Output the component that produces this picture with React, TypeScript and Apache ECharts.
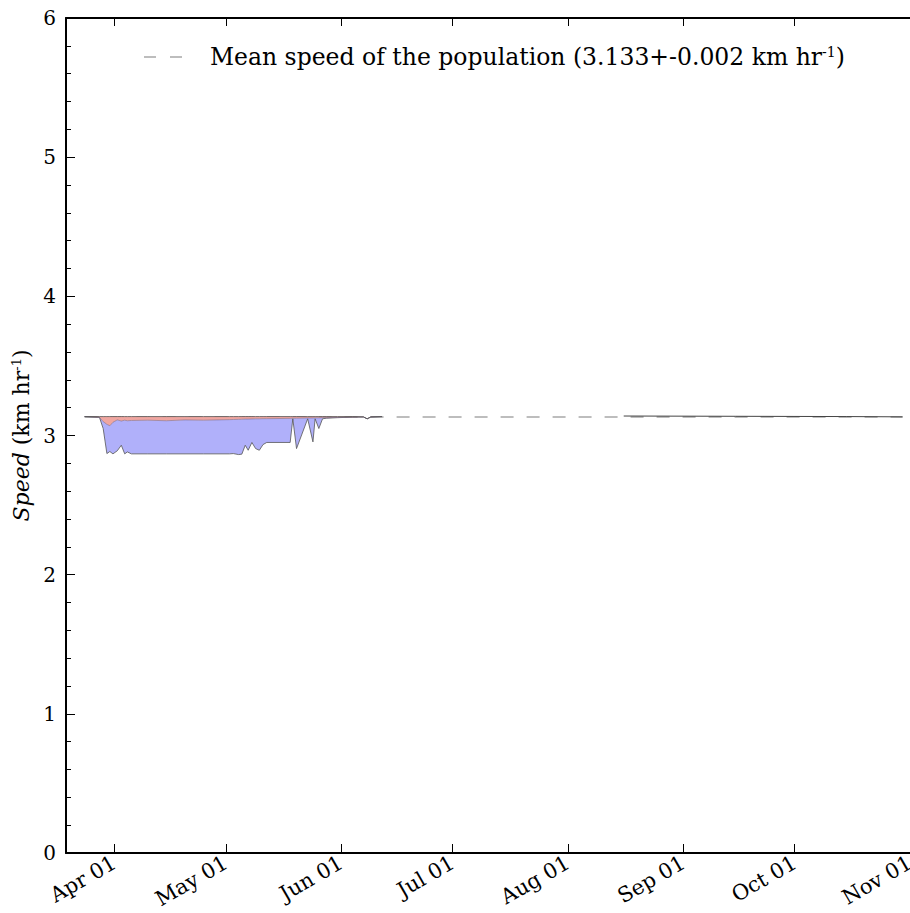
import React, { useEffect, useRef } from "react";
import * as echarts from "echarts";

// Dates of the speed envelope (shared by the three edge arrays)
const envelopeDates: string[] = [
  "2014-03-24", "2014-03-28", "2014-03-29", "2014-03-29 12:00", "2014-03-30",
  "2014-03-30 19:00", "2014-03-31 15:00", "2014-04-01 19:00", "2014-04-02 21:00",
  "2014-04-03 19:00", "2014-04-04 12:00", "2014-04-05 14:00", "2014-04-10",
  "2014-04-15", "2014-04-20", "2014-04-25", "2014-05-02", "2014-05-03",
  "2014-05-04 10:00", "2014-05-05 07:00", "2014-05-06 05:00", "2014-05-07",
  "2014-05-08", "2014-05-09", "2014-05-10", "2014-05-11", "2014-05-12",
  "2014-05-18 07:00", "2014-05-19", "2014-05-20", "2014-05-23", "2014-05-24 10:00",
  "2014-05-25", "2014-05-26", "2014-05-27", "2014-05-28", "2014-05-31",
  "2014-06-04", "2014-06-07", "2014-06-08", "2014-06-09", "2014-06-12",
];
// upper edge of the red band (population mean level)
const upperSpeed: number[] = [
  3.136, 3.136, 3.136, 3.136, 3.136, 3.136, 3.136, 3.136, 3.136, 3.136, 3.136,
  3.136, 3.136, 3.136, 3.136, 3.136, 3.136, 3.136, 3.136, 3.136, 3.136, 3.136,
  3.136, 3.136, 3.136, 3.136, 3.136, 3.136, 3.136, 3.136, 3.136, 3.136, 3.136,
  3.136, 3.136, 3.136, 3.136, 3.136, 3.134, 3.12, 3.134, 3.136,
];
// boundary between red and blue bands
const middleSpeed: number[] = [
  3.136, 3.13, 3.1, 3.09, 3.08, 3.07, 3.095, 3.112, 3.104, 3.11, 3.106,
  3.108, 3.11, 3.106, 3.112, 3.11, 3.114, 3.115, 3.116, 3.117, 3.118, 3.118,
  3.119, 3.12, 3.12, 3.121, 3.121, 3.123, 3.124, 3.124, 3.126, 3.126,
  3.127, 3.127, 3.128, 3.128, 3.13, 3.132, 3.133, 3.12, 3.133, 3.136,
];
// lower edge of the blue band
const lowerSpeed: number[] = [
  3.136, 3.13, 3.05, 2.96, 2.87, 2.885, 2.868, 2.89, 2.93, 2.868, 2.882,
  2.868, 2.868, 2.868, 2.868, 2.868, 2.868, 2.87, 2.863, 2.866, 2.93, 2.894,
  2.95, 2.906, 2.894, 2.935, 2.95, 2.95, 3.12, 2.906, 3.12, 2.954,
  3.12, 3.05, 3.12, 3.124, 3.128, 3.132, 3.133, 3.12, 3.133, 3.136,
];
// later single trace
const lateDates: string[] = ["2014-08-16", "2014-09-15", "2014-10-15", "2014-10-30"];
const lateSpeed: number[] = [3.14, 3.138, 3.136, 3.134];
// population mean
const meanDates: string[] = ["2014-03-24", "2014-10-30"];
const meanSpeed = 3.133;

const yTicks = [0, 1, 2, 3, 4, 5, 6];
const xMin = "2014-03-19";
const xMax = "2014-11-01";
const MONTHS = ["Jan", "Feb", "Mar", "Apr", "May", "Jun", "Jul", "Aug", "Sep", "Oct", "Nov", "Dec"];

const FONT = "DejaVu Serif";

export default function App() {
  const ref = useRef<HTMLDivElement>(null);
  useEffect(() => {
    if (!ref.current) return;
    const chart = echarts.init(ref.current, undefined, { renderer: "svg" });
    const day = 86400000;
    const fmt = (v: number) => {
      const d = new Date(v);
      const dd = String(d.getDate()).padStart(2, "0");
      return `${MONTHS[d.getMonth()]} ${dd}`;
    };
    const xBase = {
      type: "time" as const,
      min: xMin,
      max: xMax,
      minInterval: 28 * day,
      maxInterval: 31 * day,
      splitLine: { show: false },
      axisLine: { lineStyle: { color: "#000", width: 2 } },
    };
    const lineColor = "#555";
    const option: any = {
      animation: false,
      backgroundColor: "#fff",
      grid: {
        left: 66,
        right: 0,
        top: 18,
        bottom: 60,
        containLabel: false,
        outerBoundsMode: "none",
      },
      xAxis: [
        {
          ...xBase,
          position: "bottom",
          axisTick: { inside: true, length: 9, lineStyle: { color: "#000", width: 1 } },
          axisLabel: {
            rotate: 30,
            formatter: fmt,
            color: "#000",
            fontFamily: FONT,
            fontSize: 21,
            margin: 8,
            showMinLabel: false,
            showMaxLabel: true,
            hideOverlap: false,
          },
        },
        {
          ...xBase,
          position: "top",
          axisTick: { inside: true, length: 8, lineStyle: { color: "#000", width: 1 } },
          axisLabel: { show: false },
        },
      ],
      yAxis: {
        type: "value",
        min: yTicks[0],
        max: yTicks[yTicks.length - 1],
        interval: 1,
        splitLine: { show: false },
        axisLine: { show: true, lineStyle: { color: "#000", width: 2 } },
        axisTick: { show: true, inside: true, length: 9, lineStyle: { color: "#000", width: 1 } },
        minorTick: { show: true, splitNumber: 5, length: 5, lineStyle: { color: "#000", width: 1 } },
        axisLabel: { color: "#000", fontFamily: FONT, fontSize: 20, margin: 10 },
        name: "{i|Speed} {n|(km hr}{s|-1}{n|)}",
        nameLocation: "middle",
        nameGap: 34,
        nameTextStyle: {
          fontFamily: FONT,
          fontSize: 22,
          color: "#000",
          rich: {
            i: { fontFamily: FONT, fontSize: 22, fontStyle: "italic", color: "#000" },
            n: { fontFamily: FONT, fontSize: 22, color: "#000" },
            s: { fontFamily: FONT, fontSize: 13, color: "#000", verticalAlign: "top" },
          },
        },
      },
      series: [
        {
          type: "line",
          name: "mean",
          data: meanDates.map((d) => [d, meanSpeed]),
          symbol: "none",
          z: 1,
          lineStyle: { color: "#a8a8a8", width: 1.6, type: [13, 13] },
        },
        {
          type: "line",
          name: "lower",
          stack: "env",
          stackStrategy: "all",
          data: envelopeDates.map((d, i) => [d, lowerSpeed[i]]),
          symbol: "none",
          z: 3,
          lineStyle: { color: lineColor, width: 0.8 },
        },
        {
          type: "line",
          name: "blue",
          stack: "env",
          stackStrategy: "all",
          data: envelopeDates.map((d, i) => [d, +(middleSpeed[i] - lowerSpeed[i]).toFixed(4)]),
          symbol: "none",
          z: 3,
          lineStyle: { color: "#7a6a8a", width: 0.6 },
          areaStyle: { color: "rgb(176,176,250)", opacity: 1 },
        },
        {
          type: "line",
          name: "red",
          stack: "env",
          stackStrategy: "all",
          data: envelopeDates.map((d, i) => [d, +(upperSpeed[i] - middleSpeed[i]).toFixed(4)]),
          symbol: "none",
          z: 3,
          lineStyle: { color: lineColor, width: 0.8 },
          areaStyle: { color: "rgb(240,166,160)", opacity: 1 },
        },
        {
          type: "line",
          name: "late",
          data: lateDates.map((d, i) => [d, lateSpeed[i]]),
          symbol: "none",
          z: 3,
          lineStyle: { color: "#444", width: 1 },
        },
      ],
      graphic: [
        {
          type: "line",
          shape: { x1: 144, y1: 57, x2: 182, y2: 57 },
          style: { stroke: "#a8a8a8", lineWidth: 1.6, lineDash: [12, 14] },
        },
        {
          type: "text",
          x: 210,
          y: 57,
          style: {
            text: "{n|Mean speed of the population (3.133+-0.002 km hr}{s|-1}{n|)}",
            verticalAlign: "middle",
            rich: {
              n: { fontFamily: FONT, fontSize: 23.5, fill: "#000" },
              s: { fontFamily: FONT, fontSize: 14, fill: "#000", verticalAlign: "top" },
            },
          },
        },
      ],
    };
    chart.setOption(option);
    return () => chart.dispose();
  }, []);
  return (
    <div
      ref={ref}
      style={{ position: "absolute", left: 0, top: 0, width: 910, height: 913 }}
    />
  );
}
